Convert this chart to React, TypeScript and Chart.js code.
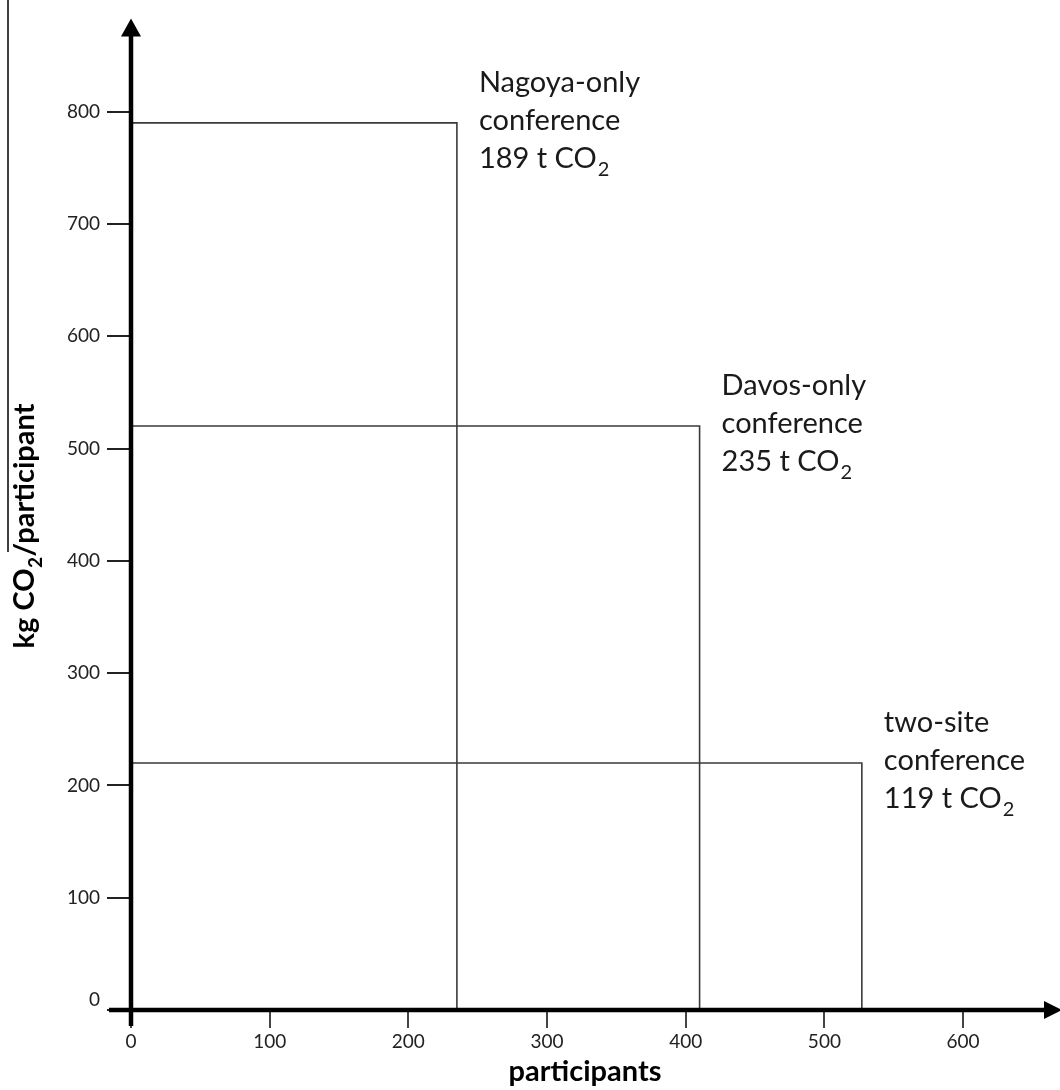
import React, { useEffect, useRef } from "react";
import { Chart, registerables } from "chart.js";

Chart.register(...registerables);

// ---- data ----
const conferenceNames = ["Nagoya-only", "Davos-only", "two-site"];
const participants = [235, 410, 527];
const kgPerParticipant = [790, 520, 220];
const totalTonnes = [189, 235, 119];

const xTicks = [0, 100, 200, 300, 400, 500, 600];
const yTicks = [0, 100, 200, 300, 400, 500, 600, 700, 800];
const xMax = 667;
const yMax = 883;

const xTitle = "participants";
const yTitleParts = ["kg CO", "2", "/participant"];

const FONT = "Lato, 'Open Sans', sans-serif";

const overlayPlugin = {
  id: "overlay",
  afterDraw(chart: any) {
    const ctx = chart.ctx as CanvasRenderingContext2D;
    const xs = chart.scales.x;
    const ys = chart.scales.y;
    const x0 = xs.getPixelForValue(0);
    const y0 = ys.getPixelForValue(0);
    const xEnd = xs.getPixelForValue(xMax);
    const yTop = ys.getPixelForValue(yMax);
    ctx.save();

    // thin edge line at far left
    ctx.strokeStyle = "#000";
    ctx.lineWidth = 1.5;
    ctx.beginPath();
    ctx.moveTo(8, 0);
    ctx.lineTo(8, 552);
    ctx.stroke();

    // axes
    ctx.lineWidth = 4.5;
    ctx.lineCap = "butt";
    ctx.beginPath();
    ctx.moveTo(x0, y0 + 16);
    ctx.lineTo(x0, yTop + 16);
    ctx.stroke();
    ctx.beginPath();
    ctx.moveTo(x0 - 22, y0);
    ctx.lineTo(xEnd - 10, y0);
    ctx.stroke();

    // arrowheads
    ctx.fillStyle = "#000";
    ctx.beginPath();
    ctx.moveTo(x0, yTop);
    ctx.lineTo(x0 - 10, yTop + 18);
    ctx.lineTo(x0 + 10, yTop + 18);
    ctx.closePath();
    ctx.fill();
    ctx.beginPath();
    ctx.moveTo(xEnd + 6, y0);
    ctx.lineTo(xEnd - 12, y0 - 9);
    ctx.lineTo(xEnd - 12, y0 + 9);
    ctx.closePath();
    ctx.fill();

    // y "0" label sits just above the x-axis
    ctx.fillStyle = "#222";
    ctx.font = `19px ${FONT}`;
    ctx.textAlign = "right";
    ctx.textBaseline = "middle";
    ctx.fillText(String(yTicks[0]), x0 - 31, y0 - 10);

    // annotations
    ctx.fillStyle = "#1a1a1a";
    ctx.textAlign = "left";
    ctx.textBaseline = "alphabetic";
    for (let i = 0; i < conferenceNames.length; i++) {
      const px = xs.getPixelForValue(participants[i]) + 22;
      const py = ys.getPixelForValue(kgPerParticipant[i]) - 31;
      ctx.font = `29px ${FONT}`;
      ctx.fillText(conferenceNames[i], px, py);
      ctx.fillText("conference", px, py + 38);
      const t = `${totalTonnes[i]} t CO`;
      ctx.fillText(t, px, py + 76);
      const w = ctx.measureText(t).width;
      ctx.font = `20px ${FONT}`;
      ctx.fillText("2", px + w + 1, py + 84);
    }

    // x title
    ctx.fillStyle = "#000";
    ctx.font = `bold 29px ${FONT}`;
    ctx.textAlign = "center";
    ctx.fillText(xTitle, 585, 1081);

    // y title (rotated, with subscript)
    ctx.translate(34, 526);
    ctx.rotate(-Math.PI / 2);
    ctx.textAlign = "left";
    const big = `bold 29px ${FONT}`;
    const small = `bold 19px ${FONT}`;
    ctx.font = big;
    const w1 = ctx.measureText(yTitleParts[0]).width;
    const w3 = ctx.measureText(yTitleParts[2]).width;
    ctx.font = small;
    const w2 = ctx.measureText(yTitleParts[1]).width;
    const total = w1 + w2 + w3 + 1;
    let cx = -total / 2;
    ctx.font = big;
    ctx.fillText(yTitleParts[0], cx, 0);
    cx += w1 + 0.5;
    ctx.font = small;
    ctx.fillText(yTitleParts[1], cx, 8);
    cx += w2 + 0.5;
    ctx.font = big;
    ctx.fillText(yTitleParts[2], cx, 0);

    ctx.restore();
  },
};

export default function App() {
  const ref = useRef<HTMLCanvasElement>(null);
  useEffect(() => {
    document.body.style.margin = "0";
    const datasets = conferenceNames.map((name, i) => ({
      label: name,
      data: [
        { x: 0, y: kgPerParticipant[i] },
        { x: participants[i], y: kgPerParticipant[i] },
        { x: participants[i], y: 0 },
      ],
      borderColor: "#3a3a3a",
      borderWidth: 1.6,
      pointRadius: 0,
      fill: false,
      tension: 0,
    }));
    const chart = new Chart(ref.current as HTMLCanvasElement, {
      type: "line",
      data: { datasets },
      options: {
        animation: false,
        responsive: false,
        devicePixelRatio: 1,
        layout: { padding: { left: 0, top: 11, right: 4, bottom: 0 } },
        plugins: { legend: { display: false }, tooltip: { enabled: false } },
        scales: {
          x: {
            type: "linear",
            min: 0,
            max: xMax,
            afterBuildTicks: (axis: any) => {
              axis.ticks = xTicks.map((v) => ({ value: v }));
            },
            afterFit: (scale: any) => {
              scale.height = 80;
            },
            border: { display: false },
            grid: {
              drawOnChartArea: false,
              drawTicks: true,
              tickLength: 18,
              color: "#444",
              lineWidth: 2,
            },
            ticks: {
              autoSkip: false,
              maxRotation: 0,
              padding: 2,
              color: "#222",
              font: { family: FONT, size: 19 },
            },
          },
          y: {
            type: "linear",
            min: 0,
            max: yMax,
            afterBuildTicks: (axis: any) => {
              axis.ticks = yTicks.map((v) => ({ value: v }));
            },
            afterFit: (scale: any) => {
              scale.width = 131;
            },
            border: { display: false },
            grid: {
              drawOnChartArea: false,
              drawTicks: true,
              tickLength: 24,
              color: "#222",
              lineWidth: 2,
            },
            ticks: {
              autoSkip: false,
              padding: 7,
              color: "#222",
              font: { family: FONT, size: 19 },
              callback: (v: any) => (v === 0 ? "" : String(v)),
            },
          },
        },
      },
      plugins: [overlayPlugin],
    } as any);
    return () => chart.destroy();
  }, []);
  return (
    <div style={{ position: "absolute", left: 0, top: 0, width: 1060, height: 1090 }}>
      <canvas ref={ref} width={1060} height={1090} style={{ width: 1060, height: 1090 }} />
    </div>
  );
}
